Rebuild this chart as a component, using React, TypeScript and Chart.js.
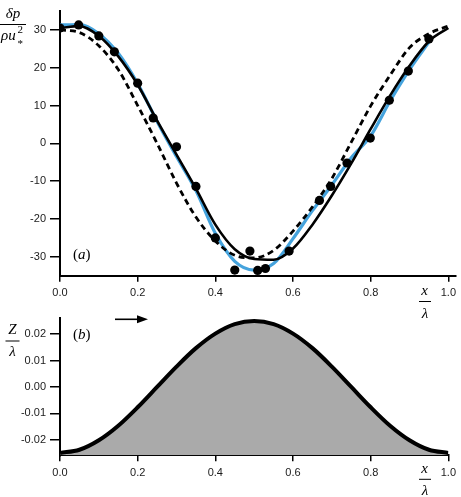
import React, { useEffect, useRef } from "react";
import { Chart, registerables } from "chart.js";

Chart.register(...registerables);

// ---------- data ----------
const xTicks = [0, 0.2, 0.4, 0.6, 0.8, 1.0];
const pTicks = [-30, -20, -10, 0, 10, 20, 30];
const zTicks = [-0.02, -0.01, 0, 0.01, 0.02];

const lineX = [0, 0.05, 0.1, 0.15, 0.2, 0.25, 0.3, 0.35, 0.4, 0.45, 0.5, 0.55, 0.6, 0.65, 0.7, 0.75, 0.8, 0.85, 0.9, 0.95, 1.0];
const solidP = [30.5, 31.0, 28.4, 23.0, 15.5, 6.0, -3.0, -12.0, -21.5, -28.0, -30.6, -30.8, -27.8, -21.5, -13.8, -5.3, 3.8, 12.6, 20.5, 27.0, 30.5];
const dashedP = [30.0, 29.3, 25.8, 19.5, 10.0, 0.0, -10.5, -19.5, -25.8, -29.6, -30.3, -28.3, -23.2, -16.8, -9.3, 0.3, 9.9, 18.0, 25.3, 29.0, 31.0];
const blueX = [0, 0.05, 0.1, 0.15, 0.2, 0.25, 0.3, 0.35, 0.4, 0.45, 0.5, 0.55, 0.6, 0.65, 0.7, 0.75, 0.8, 0.85, 0.9, 0.955];
const blueP = [31.3, 31.4, 29.0, 23.8, 15.8, 5.8, -3.5, -12.5, -23.8, -31.2, -33.5, -31.8, -25.2, -17.8, -11.0, -3.8, 2.0, 11.2, 19.5, 27.5];
const obsX = [0.0, 0.048, 0.1, 0.14, 0.2, 0.24, 0.3, 0.35, 0.4, 0.45, 0.489, 0.509, 0.529, 0.59, 0.668, 0.697, 0.739, 0.799, 0.848, 0.897, 0.95];
const obsP = [30.5, 31.3, 28.4, 24.2, 15.9, 6.7, -0.9, -11.4, -25.0, -33.5, -28.5, -33.6, -33.1, -28.5, -15.1, -11.4, -5.2, 1.4, 11.4, 19.1, 27.6];
const zVals = [-0.025, -0.0238, -0.0202, -0.0147, -0.0077, 0.0, 0.0077, 0.0147, 0.0202, 0.0238, 0.025, 0.0238, 0.0202, 0.0147, 0.0077, 0.0, -0.0077, -0.0147, -0.0202, -0.0238, -0.025];

// ---------- style ----------
const TICK_FONT = { family: "'Liberation Sans', Arial, sans-serif", size: 11 };
const TICK_COLOR = "#1a1a1a";
const SERIF = "'Liberation Serif', 'DejaVu Serif', serif";
const IT = `italic 15px ${SERIF}`;
const UP = `15px ${SERIF}`;
const SMALL = `11px ${SERIF}`;

type Seg = { t: string; font: string };
type TextRun = { segs: Seg[]; x: number; y: number; align: "left" | "center" };
type Overlay = { runs: TextRun[]; bars: [number, number, number][]; arrow?: [number, number, number] };

function overlayPlugin(o: Overlay) {
  return {
    id: "overlay",
    afterDraw(chart: any) {
      const ctx: CanvasRenderingContext2D = chart.ctx;
      ctx.save();
      ctx.fillStyle = "#000";
      ctx.strokeStyle = "#000";
      ctx.textBaseline = "alphabetic";
      ctx.textAlign = "left";
      for (const r of o.runs) {
        let total = 0;
        for (const s of r.segs) {
          ctx.font = s.font;
          total += ctx.measureText(s.t).width;
        }
        let x = r.align === "center" ? r.x - total / 2 : r.x;
        for (const s of r.segs) {
          ctx.font = s.font;
          ctx.fillText(s.t, x, r.y);
          x += ctx.measureText(s.t).width;
        }
      }
      for (const [x1, x2, y] of o.bars) {
        ctx.fillRect(x1, y - 0.5, x2 - x1, 1);
      }
      if (o.arrow) {
        const [x1, x2, y] = o.arrow;
        ctx.lineWidth = 1.6;
        ctx.beginPath();
        ctx.moveTo(x1, y);
        ctx.lineTo(x2 - 8, y);
        ctx.stroke();
        ctx.beginPath();
        ctx.moveTo(x2, y);
        ctx.lineTo(x2 - 11, y - 4);
        ctx.lineTo(x2 - 11, y + 4);
        ctx.closePath();
        ctx.fill();
      }
      ctx.restore();
    },
  };
}

function axisX(max: number, height: number) {
  return {
    type: "linear" as const,
    min: 0,
    max,
    afterBuildTicks: (a: any) => {
      a.ticks = xTicks.map((v) => ({ value: v }));
    },
    afterFit: (s: any) => {
      s.height = height;
    },
    ticks: {
      font: TICK_FONT,
      color: TICK_COLOR,
      padding: 5,
      maxRotation: 0,
      autoSkip: false,
      callback: (v: any) => Number(v).toFixed(1),
    },
    grid: { display: true, drawOnChartArea: false, drawTicks: true, tickLength: 6, color: "#000", lineWidth: 1.5 },
    border: { display: true, color: "#000", width: 2 },
  };
}

function axisY(min: number, max: number, ticks: number[], digits: number) {
  return {
    type: "linear" as const,
    min,
    max,
    afterBuildTicks: (a: any) => {
      a.ticks = ticks.map((v) => ({ value: v }));
    },
    afterFit: (s: any) => {
      s.width = 60;
    },
    ticks: {
      font: TICK_FONT,
      color: TICK_COLOR,
      padding: 4,
      autoSkip: false,
      callback: (v: any) => Number(v).toFixed(digits),
    },
    grid: { display: true, drawOnChartArea: false, drawTicks: true, tickLength: 10, color: "#000", lineWidth: 1.5 },
    border: { display: true, color: "#000", width: 2 },
  };
}

const pts = (xs: number[], ys: number[]) => xs.map((x, i) => ({ x, y: ys[i] }));

export default function App() {
  const topRef = useRef<HTMLCanvasElement>(null);
  const botRef = useRef<HTMLCanvasElement>(null);

  useEffect(() => {
    const top = new Chart(topRef.current!, {
      type: "line",
      data: {
        datasets: [
          {
            data: pts(obsX, obsP),
            showLine: false,
            pointRadius: 4.6,
            pointBackgroundColor: "#000",
            pointBorderWidth: 0,
            order: 0,
          },
          {
            data: pts(lineX, solidP),
            borderColor: "#000",
            borderWidth: 2.6,
            pointRadius: 0,
            cubicInterpolationMode: "monotone",
            order: 1,
          },
          {
            data: pts(lineX, dashedP),
            borderColor: "#000",
            borderWidth: 2.8,
            borderDash: [6, 4],
            pointRadius: 0,
            cubicInterpolationMode: "monotone",
            order: 2,
          },
          {
            data: pts(blueX, blueP),
            borderColor: "#45a3dd",
            borderWidth: 3.2,
            pointRadius: 0,
            cubicInterpolationMode: "monotone",
            order: 3,
          },
        ],
      },
      options: {
        animation: false,
        responsive: false,
        events: [],
        layout: { padding: { top: 0, right: 0, left: 0, bottom: 0 }, autoPadding: false },
        plugins: { legend: { display: false }, tooltip: { enabled: false } },
        scales: {
          x: axisX(1.018, 44.3),
          y: axisY(-35, 35.1, pTicks, 0),
        },
      } as any,
      plugins: [
        overlayPlugin({
          runs: [
            { segs: [{ t: "δp", font: IT }], x: 13, y: 18, align: "center" },
            { segs: [{ t: "ρu", font: IT }], x: 1, y: 40, align: "left" },
            { segs: [{ t: "2", font: SMALL }], x: 17.5, y: 33, align: "left" },
            { segs: [{ t: "*", font: SMALL }], x: 17.5, y: 47, align: "left" },
            { segs: [{ t: "(", font: UP }, { t: "a", font: IT }, { t: ")", font: UP }], x: 73, y: 259, align: "left" },
            { segs: [{ t: "x", font: IT }], x: 424.5, y: 295, align: "center" },
            { segs: [{ t: "λ", font: IT }], x: 425, y: 318, align: "center" },
          ],
          bars: [
            [0, 26, 24.5],
            [419, 431, 301.5],
          ],
        }),
      ],
    });

    const bot = new Chart(botRef.current!, {
      type: "line",
      data: {
        datasets: [
          {
            data: pts(lineX, zVals),
            borderColor: "#000",
            borderWidth: 4,
            backgroundColor: "#aaaaaa",
            fill: "start",
            pointRadius: 0,
            cubicInterpolationMode: "monotone",
          },
        ],
      },
      options: {
        animation: false,
        responsive: false,
        events: [],
        layout: { padding: { top: 18.3, right: 8.3, left: 0, bottom: 0 }, autoPadding: false },
        plugins: { legend: { display: false }, tooltip: { enabled: false }, filler: { propagate: false } },
        scales: {
          x: axisX(1.0, 41.7),
          y: axisY(-0.0259, 0.026, zTicks, 2),
        },
      } as any,
      plugins: [
        overlayPlugin({
          runs: [
            { segs: [{ t: "Z", font: IT }], x: 12.5, y: 34, align: "center" },
            { segs: [{ t: "λ", font: IT }], x: 12.5, y: 56, align: "center" },
            { segs: [{ t: "(", font: UP }, { t: "b", font: IT }, { t: ")", font: UP }], x: 73, y: 39, align: "left" },
            { segs: [{ t: "x", font: IT }], x: 424.5, y: 172.7, align: "center" },
            { segs: [{ t: "λ", font: IT }], x: 425, y: 195, align: "center" },
          ],
          bars: [
            [5.5, 19.5, 41],
            [419, 431, 179.3],
          ],
          arrow: [115, 148, 19.3],
        }),
      ],
    });

    return () => {
      top.destroy();
      bot.destroy();
    };
  }, []);

  return (
    <div style={{ position: "fixed", left: 0, top: 0, width: 461, height: 497, background: "#fff", overflow: "hidden" }}>
      <canvas ref={topRef} width={461} height={320} style={{ position: "absolute", left: 0, top: 0, width: 461, height: 320 }} />
      <canvas ref={botRef} width={461} height={197} style={{ position: "absolute", left: 0, top: 300, width: 461, height: 197 }} />
    </div>
  );
}
